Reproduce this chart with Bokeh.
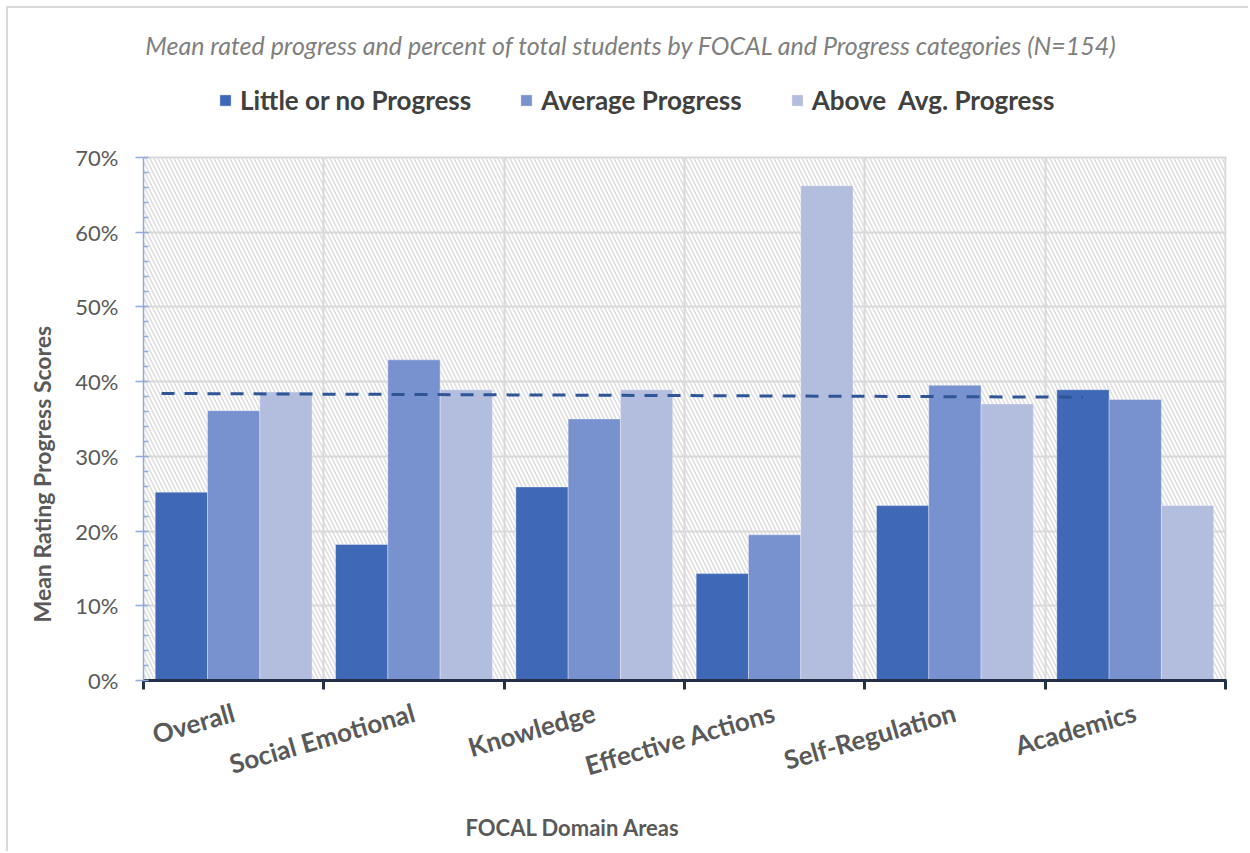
import numpy as np
from bokeh.plotting import figure
from bokeh.models import (Range1d, FixedTicker, NumeralTickFormatter, BoxAnnotation,
                          Label, Legend, LegendItem, Title)
from bokeh.embed import file_html
from bokeh.resources import INLINE

# FOCAL domain areas and share of students per progress category
categories = ["Overall", "Social Emotional", "Knowledge", "Effective Actions",
              "Self-Regulation", "Academics"]
series_names = ["Little or no Progress", "Average Progress", "Above  Avg. Progress"]
little_progress = [0.252, 0.182, 0.259, 0.143, 0.234, 0.389]
average_progress = [0.361, 0.429, 0.350, 0.195, 0.395, 0.376]
above_avg_progress = [0.386, 0.389, 0.389, 0.662, 0.370, 0.234]
# overall mean progress reference line (start / end values)
mean_line = [0.384, 0.379]
y_ticks = [0.0, 0.1, 0.2, 0.3, 0.4, 0.5, 0.6, 0.7]

colors = ["#3f69b7", "#7891cf", "#b3bedf"]
FONT = "Lato"
GRAY = "#595959"

n = len(categories)
centers = np.arange(n) + 0.5
bounds = np.arange(n + 1).astype(float)
bar_w = 0.29
y_max = y_ticks[-1]
# the frame reaches up to the top of the canvas so the heading and legend sit inside it
px_per_unit = 524 / y_max
y_top = 673 / px_per_unit

p = figure(width=1242, height=845, x_range=Range1d(0, n + 0.006), y_range=Range1d(0, y_top),
           output_backend="svg", toolbar_location=None,
           min_border_left=135, min_border_right=24, min_border_top=0,
           min_border_bottom=172)
p.margin = (6, 0, 0, 6)
p.styles = {"border-left": "2px solid #d9d9d9", "border-top": "2px solid #d9d9d9"}
p.background_fill_color = "white"
p.border_fill_color = "white"
p.outline_line_color = None

# hatched plot area
p.add_layout(BoxAnnotation(bottom=0, top=y_max, fill_color="white", fill_alpha=1.0,
                           line_color=None, hatch_pattern="\\", hatch_scale=8,
                           hatch_weight=1.6, hatch_color="#dedede", level="image"))

# grid
p.xgrid.ticker = FixedTicker(ticks=list(bounds))
p.ygrid.ticker = FixedTicker(ticks=y_ticks)
for g in (p.xgrid, p.ygrid):
    g.grid_line_color = "#d9d9d9"
    g.grid_line_width = 2
if "cross_bounds" in p.xgrid[0].properties():
    p.xgrid.cross_bounds = (0, y_max)
else:
    p.xgrid.grid_line_color = None
    p.segment(x0=bounds, y0=0, x1=bounds, y1=y_max, line_color="#d9d9d9",
              line_width=2, level="underlay")

# bars
renderers = []
for i, (vals, col) in enumerate(zip([little_progress, average_progress, above_avg_progress], colors)):
    r = p.vbar(x=centers + (i - 1) * bar_w, top=vals, width=bar_w, fill_color=col,
               line_color="white", line_alpha=0.35, line_width=1)
    renderers.append(r)

# mean line
p.line(x=[centers[0] - 0.4, centers[-1] - 0.29], y=mean_line, line_color="#2f5597",
       line_width=3, line_dash="13 10")

# y axis
ya = p.yaxis[0]
ya.bounds = (0, y_max)
ya.ticker = FixedTicker(ticks=y_ticks, minor_ticks=list(np.round(np.arange(0, y_max + 1e-9, 0.02), 3)))
ya.formatter = NumeralTickFormatter(format="0%")
ya.axis_line_color = "#8faadc"
ya.axis_line_width = 1.5
ya.major_tick_line_color = "#8faadc"
ya.major_tick_line_width = 1.5
ya.major_tick_out = 8
ya.major_tick_in = 0
ya.minor_tick_line_color = "#8faadc"
ya.minor_tick_line_width = 1.5
ya.minor_tick_in = 5
ya.minor_tick_out = 0
ya.major_label_standoff = 17
ya.major_label_text_font = FONT
ya.major_label_text_font_size = "22px"
ya.major_label_text_color = GRAY

# x axis: labels at category centres, ticks at category boundaries
xa = p.xaxis[0]
xa.ticker = FixedTicker(ticks=list(centers), minor_ticks=list(bounds))
xa.major_label_overrides = {float(c): name for c, name in zip(centers, categories)}
xa.axis_line_color = "#243047"
xa.axis_line_width = 3
xa.major_tick_line_color = None
xa.major_tick_out = 0
xa.minor_tick_line_color = "#243047"
xa.minor_tick_line_width = 3
xa.minor_tick_out = 9
xa.minor_tick_in = 0
xa.major_label_orientation = 0.28
xa.major_label_standoff = 22
xa.major_label_text_font = FONT
xa.major_label_text_font_size = "26px"
xa.major_label_text_font_style = "bold"
xa.major_label_text_color = GRAY

# axis titles
p.add_layout(Title(text="FOCAL Domain Areas", align="left", offset=322, standoff=25,
                   text_font=FONT, text_font_style="bold", text_font_size="22px",
                   text_color=GRAY), "below")
p.add_layout(Title(text="Mean Rating Progress Scores", align="left", offset=58, standoff=34,
                   text_font=FONT, text_font_style="bold", text_font_size="23px",
                   text_color=GRAY), "left")

# subtitle
p.add_layout(Label(x=2.706, y=636 / px_per_unit,
                   text="Mean rated progress and percent of total students by FOCAL and Progress categories (N=154)",
                   text_align="center", text_baseline="middle", text_font=FONT,
                   text_font_style="italic", text_font_size="25px", text_color="#7f7f7f"))

# legend
legend = Legend(items=[LegendItem(label=nm, renderers=[r]) for nm, r in zip(series_names, renderers)],
                location=(75, 564), orientation="horizontal", glyph_width=14, glyph_height=14,
                label_standoff=8, spacing=48, padding=0, margin=0,
                border_line_color=None, background_fill_alpha=0,
                label_text_font=FONT, label_text_font_size="26px",
                label_text_font_style="bold", label_text_color="#404040")
p.add_layout(legend, "center")

open("out.html", "w").write(file_html(p, INLINE))
